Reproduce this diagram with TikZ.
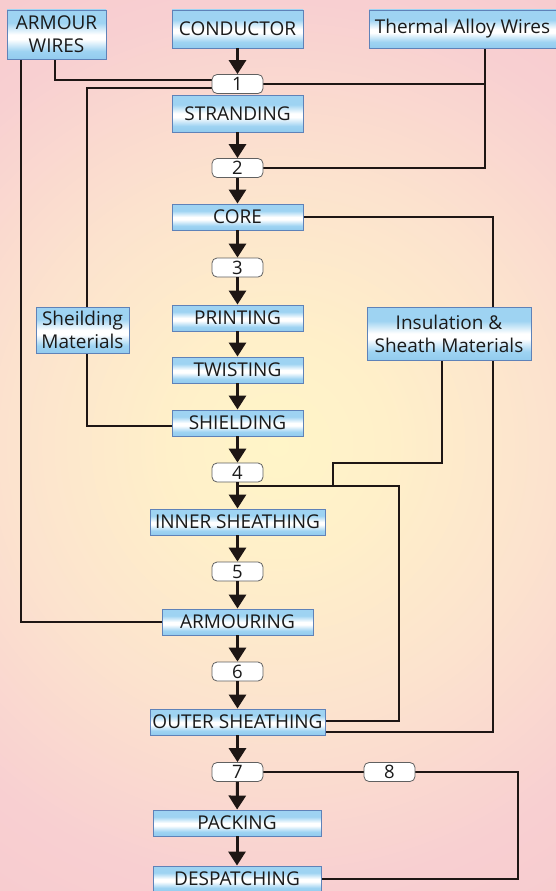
\documentclass[tikz,border=0pt]{standalone}
\usepackage{fontspec}
\setmainfont{Open Sans}
\usetikzlibrary{arrows.meta}
\pgfdeclarelayer{back}
\pgfsetlayers{back,main}
\definecolor{bgA}{HTML}{FFF5C8}
\definecolor{bgB}{HTML}{FFF0C9}
\definecolor{bgC}{HTML}{FCE3CE}
\definecolor{bgD}{HTML}{F8CFD1}
\definecolor{bgE}{HTML}{F6C8CD}
\definecolor{boxblue}{HTML}{9ED3F2}
\definecolor{boxblueD}{HTML}{92CBEE}
\definecolor{boxborder}{HTML}{5F82B8}
\definecolor{linecol}{HTML}{1E1614}
\definecolor{textcol}{HTML}{1A1A1A}
\pgfdeclareradialshading{bgshade}{\pgfpoint{0bp}{0bp}}{color(0bp)=(bgA); color(6bp)=(bgB); color(15bp)=(bgC); color(25bp)=(bgD); color(35bp)=(bgE); color(50bp)=(bgE)}
\pgfdeclareverticalshading{boxshade}{100bp}{color(0bp)=(boxblueD); color(25bp)=(boxblueD); color(33bp)=(boxblue); color(45bp)=(white); color(50bp)=(white); color(62bp)=(boxblue); color(75bp)=(boxblue); color(100bp)=(boxblue)}
\tikzset{
  box/.style={draw=boxborder, line width=0.9pt, shade, shading=boxshade, inner sep=0pt,
    minimum height=26pt, text=textcol, font=\fontsize{19}{23}\selectfont, align=center},
  numbox/.style={draw=gray!75!black, fill=white, rounded corners=5pt, line width=0.8pt,
    minimum width=51pt, minimum height=19pt, inner sep=0pt, text=textcol,
    font=\fontsize{18.5}{18.5}\selectfont},
  flow/.style={line width=3pt, draw=linecol, -{Triangle[width=17pt,length=14pt]}},
  link/.style={line width=2.6pt, draw=linecol},
}
\begin{document}
\begin{tikzpicture}[x=1pt,y=-1pt]
\useasboundingbox (0,0) rectangle (556,891);
% main boxes
\node[box, minimum width=99pt, minimum height=49pt] (armw) at (56.5,34.5) {ARMOUR\\WIRES};
\node[box, minimum width=131pt, minimum height=38pt] (cond) at (237.5,29) {CONDUCTOR};
\node[box, minimum width=191pt, minimum height=38pt] (therm) at (464.5,29) {\hspace*{-4pt}Thermal Alloy Wires};
\node[numbox] (n1) at (237.5,84) {1};
\node[box, minimum width=131pt, minimum height=37pt] (strand) at (237.5,113.5) {STRANDING};
\node[numbox] (n2) at (237.5,168) {2};
\node[box, minimum width=131pt] (core) at (237.5,217) {CORE};
\node[numbox] (n3) at (237.5,267.5) {3};
\node[box, minimum width=131pt] (print) at (237.5,318) {PRINTING};
\node[box, minimum width=131pt] (twist) at (237.5,370) {TWISTING};
\node[box, minimum width=131pt] (shield) at (237.5,423) {SHIELDING};
\node[numbox] (n4) at (237.5,472.5) {4};
\node[box, minimum width=175pt] (inner) at (237.5,522) {INNER SHEATHING};
\node[numbox] (n5) at (237.5,571.5) {5};
\node[box, minimum width=151pt] (armr) at (237.5,622) {ARMOURING};
\node[numbox] (n6) at (237.5,671.5) {6};
\node[box, minimum width=175pt] (outer) at (237.5,722) {OUTER SHEATHING};
\node[numbox] (n7) at (237.5,772) {7};
\node[numbox] (n8) at (389.5,772) {8};
\node[box, minimum width=168pt] (pack) at (237,823) {PACKING};
\node[box, minimum width=168pt] (desp) at (237,879) {DESPATCHING};
\node[box, minimum width=93pt, minimum height=46pt] (sheil) at (82.5,330) {Sheilding\\Materials};
\node[box, minimum width=164pt, minimum height=53pt] (insul) at (449,333.5) {Insulation \&\\Sheath Materials};
% helper coordinates
\coordinate (tv) at (485,120);
\coordinate (cv) at (493,500);
\coordinate (iv) at (333,463);
\coordinate (j4) at (237.5,486);
\coordinate (ov) at (399,486);
\coordinate (dv) at (518,820);
\begin{pgfonlayer}{back}
\begin{scope}
\clip (0,0) rectangle (556,891);
\shade[shading=bgshade] (-167,0) rectangle (723,891);
\end{scope}
% side links
\draw[link] ([xshift=-35.5pt]armw.south) |- (armr.west);
\draw[link] ([xshift=-1.5pt]armw.south) |- ([yshift=4pt]n1.west);
\draw[link] ([yshift=-4pt]n1.west) -| ([xshift=4.5pt]sheil.north);
\draw[link] ([xshift=4.5pt]sheil.south) |- ([yshift=-3pt]shield.west);
\draw[link] (n1.east) -- (n1.east -| tv);
\draw[link] (therm.south -| tv) |- (n2.east);
\draw[link] (core.east) -| (cv) |- ([yshift=-10pt]outer.east);
\draw[link] ([xshift=-7pt]insul.south) |- (iv) -- (iv |- j4);
\draw[link] (j4) -- (ov) |- ([yshift=1pt]outer.east);
\draw[link] (n7) -- (n8);
\draw[link] (n8.east) -| (dv) |- (desp.east);
\end{pgfonlayer}
% main flow
\draw[flow] (cond) -- (n1);
\draw[flow] (strand) -- (n2);
\draw[flow] (n2) -- (core);
\draw[flow] (core) -- (n3);
\draw[flow] (n3) -- (print);
\draw[flow] (print) -- (twist);
\draw[flow] (twist) -- (shield);
\draw[flow] (shield) -- (n4);
\draw[flow] (n4) -- (inner);
\draw[flow] (inner) -- (n5);
\draw[flow] (n5) -- (armr);
\draw[flow] (armr) -- (n6);
\draw[flow] (n6) -- (outer);
\draw[flow] (outer) -- (n7);
\draw[flow] (n7) -- (pack);
\draw[flow] (pack) -- (desp);
\end{tikzpicture}
\end{document}
